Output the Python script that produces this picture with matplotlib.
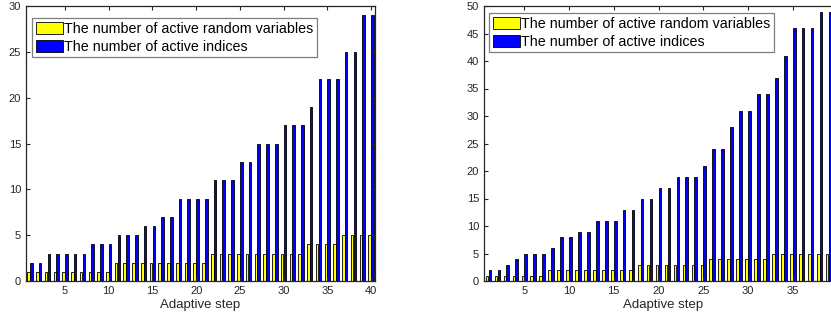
import numpy as np
import matplotlib
matplotlib.use('Agg')
import matplotlib.pyplot as plt


# left panel: 40 adaptive steps
left_steps = np.arange(1, 41)
left_rv = [1, 1, 1, 1, 1, 1, 1, 1, 1, 1,
           2, 2, 2, 2, 2, 2, 2, 2, 2, 2, 2,
           3, 3, 3, 3, 3, 3, 3, 3, 3, 3, 3,
           4, 4, 4, 4,
           5, 5, 5, 5]
left_idx = [2, 2, 3, 3, 3, 3, 3, 4, 4, 4,
            5, 5, 5, 6, 6, 7, 7, 9, 9, 9,
            9, 11, 11, 11, 13, 13, 15, 15, 15, 17,
            17, 17, 19, 22, 22, 22, 25, 25, 29, 29]

# right panel: the figure is cropped, only 39 steps are visible
right_steps = np.arange(1, 40)
right_rv = [1, 1, 1, 1, 1, 1, 1,
            2, 2, 2, 2, 2, 2, 2, 2, 2, 2,
            3, 3, 3, 3, 3, 3, 3, 3,
            4, 4, 4, 4, 4, 4, 4,
            5, 5, 5, 5, 5, 5, 5]
right_idx = [2, 2, 3, 4, 5, 5, 5, 6, 8, 8,
             9, 9, 11, 11, 11, 13, 13, 15, 15, 17,
             17, 19, 19, 19, 21, 24, 24, 28, 31, 31,
             34, 34, 37, 41, 46, 46, 46, 49, 49]

labels = ['The number of active random variables', 'The number of active indices']
left_xticks = [5, 10, 15, 20, 25, 30, 35, 40]
right_xticks = [5, 10, 15, 20, 25, 30, 35]

plt.rcParams['font.family'] = ['Liberation Sans', 'DejaVu Sans']

W, H = 831, 323
fig = plt.figure(figsize=(W / 100, H / 100), dpi=100)


def panel(rect, steps, rv, idx, xlim, ylim, xticks, leg_xy):
    ax = fig.add_axes(rect)
    off, w = 0.16, 0.3
    ax.bar(steps - off, rv, width=w, color='#ffff00', edgecolor='black',
           linewidth=0.6, label=labels[0])
    ax.bar(steps + off, idx, width=w, color='#0000ff', edgecolor='black',
           linewidth=0.6, label=labels[1])
    ax.set_xlim(*xlim)
    ax.set_ylim(*ylim)
    ax.set_xticks(xticks)
    ax.set_yticks(np.arange(0, ylim[1] + 1, 5))
    ax.tick_params(direction='in', top=True, right=True, length=3,
                   labelsize=8, colors='#262626', width=0.8)
    for s in ax.spines.values():
        s.set_color('#262626')
        s.set_linewidth(0.9)
    ax.set_xlabel('Adaptive step', fontsize=9.5, color='#262626', labelpad=2.5)
    leg = ax.legend(loc='upper left', bbox_to_anchor=leg_xy, fontsize=10.3,
                    frameon=True, fancybox=False, framealpha=1,
                    edgecolor='#7f7f7f', borderaxespad=0, borderpad=0.25,
                    handlelength=1.9, handleheight=0.9, handletextpad=0.1,
                    labelspacing=0.3)
    leg.get_frame().set_linewidth(0.9)
    return ax


def rect(x0, x1, ytop, ybot):
    return [x0 / W, (H - ybot) / H, (x1 - x0) / W, (ybot - ytop) / H]


ax1 = panel(rect(26, 375, 6, 281), left_steps, left_rv, left_idx,
            (0.54, 40.46), (0, 30), left_xticks, (6 / 349, 1 - 12 / 275))
ax2 = panel(rect(484, 842, 6, 281), right_steps, right_rv, right_idx,
            (0.5, 40.5), (0, 50), right_xticks, (5 / 358, 1 - 7 / 275))

fig.savefig('out.png', dpi=100)
